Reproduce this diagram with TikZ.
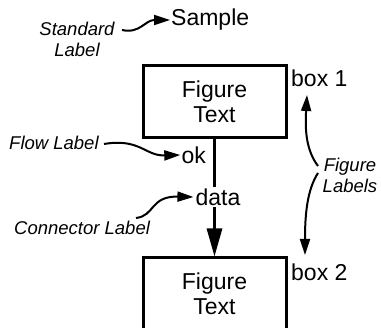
\documentclass[tikz,border=0pt]{standalone}
\usepackage{fontspec}
\setmainfont{Liberation Sans}
\usetikzlibrary{arrows.meta}
\begin{document}
\begin{tikzpicture}[x=1pt,y=-1pt,
  figbox/.style={draw,line width=3pt,minimum width=143pt,minimum height=72pt,inner sep=0pt,
    align=center,font=\fontsize{23}{25}\selectfont},
  maintext/.style={font=\fontsize{23}{25}\selectfont,inner sep=1pt},
  lbltext/.style={font=\fontsize{18.5}{21}\selectfont\itshape,align=center,inner sep=1pt},
  lblarrow/.style={line width=2pt,-{Triangle[length=16pt,width=10pt]}},
  conn/.style={line width=3pt,-{Triangle[length=28pt,width=15pt]}}]
\useasboundingbox (0,0) rectangle (381,328);
\clip (0,0) rectangle (381,328);
% boxes
\node[figbox] (box1) at (214.5,102) {Figure\\Text};
\node[figbox] (box2) at (214.5,294) {Figure\\Text};
% figure labels
\node[maintext,anchor=west] (b1lbl) at (290,78) {box 1};
\node[maintext,anchor=west] (b2lbl) at (290,272) {box 2};
% sample
\node[maintext,anchor=west] (sample) at (170,20) {Sample};
% connector
\draw[conn] (box1.south) -- (box2.north);
\node[maintext,anchor=east] (ok) at (207,155) {ok};
\node[maintext,fill=white,inner sep=2pt] (data) at (218,197) {data};
% explanatory labels
\node[lbltext] (stdlbl) at (77,39) {Standard\\Label};
\node[lbltext,anchor=west] (flowlbl) at (8,143) {Flow Label};
\node[lbltext,anchor=west] (connlbl) at (13,228) {Connector Label};
\node[lbltext] (figlbl) at (350,175) {Figure\\Labels};
% label arrows
\coordinate (stdstart) at (122,30);
\draw[lblarrow] (stdstart) .. controls (140,34) and (145,20) .. (sample.west);
\coordinate (flowstart) at (104,144);
\draw[lblarrow] (flowstart) .. controls (140,138) and (145,156) .. (ok.west);
\coordinate (connstart) at (136,218);
\draw[lblarrow] (connstart) .. controls (155,216) and (150,196) .. (data.west);
\coordinate (figup) at (318,166);
\coordinate (figdown) at (318,173);
\draw[lblarrow] (figup) .. controls (306,150) and (305,130) .. (307,95);
\draw[lblarrow] (figdown) .. controls (307,190) and (305,215) .. (305,255);
\end{tikzpicture}
\end{document}
